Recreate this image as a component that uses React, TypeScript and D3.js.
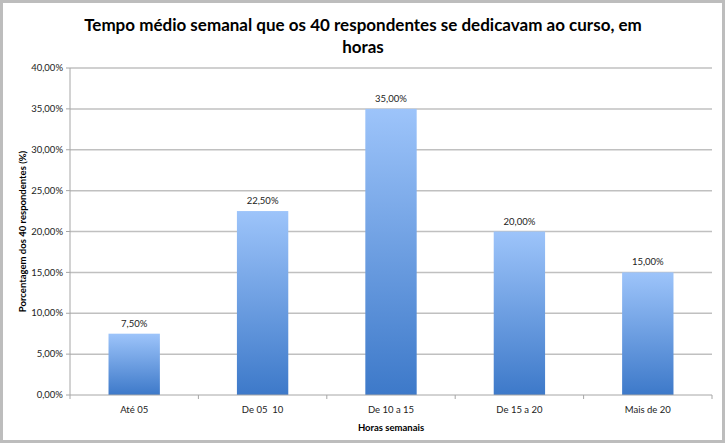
import React, { useEffect } from 'react';
import * as d3 from 'd3';

const categories = ['Até 05', 'De 05  10', 'De 10 a 15', 'De 15 a 20', 'Mais de 20'];
const values = [7.5, 22.5, 35.0, 20.0, 15.0];
const yTicks = [0, 5, 10, 15, 20, 25, 30, 35, 40];

const W = 726;
const H = 444;
const margin = { left: 70, right: 14, top: 68, bottom: 49 };
const font = 'Lato, "Open Sans", sans-serif';

const fmt = (v: number) => v.toFixed(2).replace('.', ',') + '%';

const App = () => {
  useEffect(() => {
    document.body.style.margin = '0';
  }, []);

  const x = d3
    .scaleBand<string>()
    .domain(categories)
    .range([margin.left, W - margin.right])
    .paddingInner(0.6)
    .paddingOuter(0.3);
  const y = d3
    .scaleLinear()
    .domain([0, 40])
    .range([H - margin.bottom, margin.top]);

  const step = x.step();
  const x0 = margin.left;
  const x1 = W - margin.right;
  const y0 = y(0);

  return (
    <svg width={W} height={H} style={{ display: 'block' }} fontFamily={font}>
      <defs>
        <linearGradient id="barGrad" x1="0" y1="0" x2="0" y2="1">
          <stop offset="0%" stopColor="#9dc4fa" />
          <stop offset="100%" stopColor="#3d79c9" />
        </linearGradient>
      </defs>
      <rect x={1.5} y={1.5} width={W - 4} height={H - 4} fill="#fff" stroke="#bdbdbd" strokeWidth={3} />

      <text x={W / 2} y={31} textAnchor="middle" fontSize={17} fontWeight="bold" fill="#000">
        Tempo médio semanal que os 40 respondentes se dedicavam ao curso, em
      </text>
      <text x={W / 2} y={53} textAnchor="middle" fontSize={17} fontWeight="bold" fill="#000">
        horas
      </text>

      {/* grid + y ticks */}
      {yTicks.map((t) => (
        <g key={t}>
          {t > 0 && <line x1={x0} x2={x1} y1={y(t)} y2={y(t)} stroke="#c0c0c0" strokeWidth={1.5} />}
          <line x1={x0 - 4} x2={x0} y1={y(t)} y2={y(t)} stroke="#a6a6a6" />
          <text x={x0 - 7} y={y(t)} dy="0.34em" textAnchor="end" fontSize={9.5} fill="#222">
            {fmt(t)}
          </text>
        </g>
      ))}

      {/* bars */}
      {categories.map((c, i) => (
        <g key={c}>
          <rect
            x={x(c)}
            y={y(values[i])}
            width={x.bandwidth()}
            height={y0 - y(values[i])}
            fill="url(#barGrad)"
          />
          <text
            x={(x(c) as number) + x.bandwidth() / 2}
            y={y(values[i]) - 7}
            textAnchor="middle"
            fontSize={9.5}
            fill="#222"
          >
            {fmt(values[i])}
          </text>
          <text
            x={(x(c) as number) + x.bandwidth() / 2}
            y={y0 + 18}
            textAnchor="middle"
            fontSize={9.5}
            fill="#222"
            style={{ whiteSpace: 'pre' }}
          >
            {c}
          </text>
        </g>
      ))}

      {/* axes */}
      <line x1={x0} x2={x0} y1={margin.top} y2={y0} stroke="#a6a6a6" />
      <line x1={x0} x2={x1} y1={y0} y2={y0} stroke="#a6a6a6" />
      {d3.range(categories.length + 1).map((i) => (
        <line key={i} x1={x0 + i * step} x2={x0 + i * step} y1={y0} y2={y0 + 4} stroke="#a6a6a6" />
      ))}

      <text x={(x0 + x1) / 2} y={y0 + 36} textAnchor="middle" fontSize={9.5} fontWeight="bold" fill="#000">
        Horas semanais
      </text>
      <text
        transform={`translate(26,${(margin.top + y0) / 2}) rotate(-90)`}
        textAnchor="middle"
        fontSize={9.5}
        fontWeight="bold"
        fill="#000"
      >
        Porcentagem dos 40 respondentes (%)
      </text>
    </svg>
  );
};

export default App;
